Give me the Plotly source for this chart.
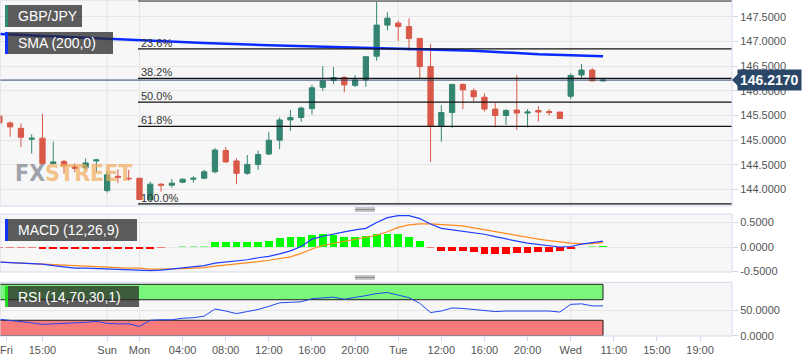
import plotly.graph_objects as go

# ---------------- data ----------------
idx = list(range(57))  # hourly candles, Fri 11:00 ... Wed ~09:00 (index on a compressed time axis)

opens = [145.49, 145.35, 145.24, 145.02, 145.04, 144.53, 144.57, 144.46, 144.44, 144.58,
         143.98, 144.27, 144.23, 144.23, 143.80, 144.11, 144.09, 144.15, 144.21, 144.23,
         144.36, 144.79, 144.58, 144.33, 144.51, 144.72, 145.00, 145.41, 145.46, 145.64,
         146.07, 146.21, 146.27, 146.11, 146.22, 146.70, 147.33, 147.37, 147.30, 147.06,
         146.49, 145.29, 145.56, 146.13, 146.00, 145.87, 145.63, 145.50, 145.61, 145.55,
         145.60, 145.58, 145.57, 145.89, 146.32, 146.42, 146.20]
highs = [145.55, 145.38, 145.34, 145.12, 145.53, 144.97, 144.60, 144.53, 144.63, 144.61,
         144.38, 144.41, 144.40, 144.23, 144.16, 144.13, 144.21, 144.23, 144.27, 144.40,
         144.84, 144.86, 144.63, 144.70, 144.79, 145.17, 145.46, 145.61, 145.68, 146.12,
         146.50, 146.48, 146.30, 146.32, 146.69, 147.80, 147.59, 147.42, 147.47, 147.06,
         146.95, 145.71, 146.13, 146.15, 146.05, 145.95, 145.75, 145.63, 146.32, 145.63,
         145.69, 145.63, 145.57, 146.35, 146.54, 146.46, 146.25]
lows = [145.30, 145.07, 144.86, 144.73, 144.52, 144.52, 144.32, 144.35, 144.40, 144.36,
        143.94, 144.13, 144.18, 143.79, 143.77, 143.96, 144.04, 144.13, 144.14, 144.21,
        144.33, 144.54, 144.11, 144.30, 144.40, 144.70, 144.82, 145.19, 145.37, 145.52,
        146.00, 146.14, 145.97, 146.08, 146.08, 146.61, 147.22, 147.01, 146.81, 146.25,
        144.56, 144.97, 145.25, 145.63, 145.78, 145.58, 145.26, 145.31, 145.21, 145.26,
        145.38, 145.50, 145.43, 145.83, 146.25, 146.20, 146.19]
closes = [145.35, 145.27, 145.06, 145.04, 144.53, 144.56, 144.48, 144.43, 144.54, 144.60,
          144.30, 144.25, 144.22, 143.80, 144.11, 144.09, 144.13, 144.21, 144.23, 144.36,
          144.80, 144.56, 144.33, 144.51, 144.71, 145.00, 145.41, 145.46, 145.65, 146.06,
          146.20, 146.27, 146.12, 146.22, 146.69, 147.33, 147.47, 147.30, 147.06, 146.49,
          145.29, 145.56, 146.13, 146.02, 145.88, 145.63, 145.50, 145.60, 145.55, 145.57,
          145.57, 145.56, 145.44, 146.31, 146.42, 146.20, 146.217]

sma_idx = [0, 5, 10, 15, 19, 25, 31, 39, 44, 50, 56]
sma_val = [147.15, 147.10, 147.05, 147.01, 146.97, 146.92, 146.89, 146.85, 146.81, 146.74, 146.70]

macd_line = [-0.31, -0.32, -0.33, -0.34, -0.35, -0.38, -0.41, -0.43, -0.43, -0.44,
             -0.44, -0.45, -0.46, -0.48, -0.48, -0.47, -0.45, -0.42, -0.40, -0.38,
             -0.33, -0.31, -0.29, -0.26, -0.22, -0.19, -0.14, -0.08, 0.01, 0.16,
             0.22, 0.27, 0.31, 0.35, 0.38, 0.50, 0.60, 0.64, 0.64, 0.58,
             0.47, 0.38, 0.35, 0.32, 0.29, 0.26, 0.21, 0.16, 0.12, 0.08,
             0.05, 0.02, 0.00, 0.01, 0.06, 0.09, 0.12]
macd_signal = [-0.31, -0.32, -0.33, -0.34, -0.35, -0.36, -0.38, -0.39, -0.40, -0.40,
               -0.41, -0.42, -0.43, -0.43, -0.45, -0.45, -0.45, -0.44, -0.43, -0.42,
               -0.39, -0.37, -0.35, -0.33, -0.30, -0.27, -0.24, -0.20, -0.13, -0.04,
               0.03, 0.07, 0.11, 0.15, 0.19, 0.24, 0.31, 0.40, 0.45, 0.47,
               0.47, 0.46, 0.45, 0.43, 0.39, 0.35, 0.31, 0.27, 0.23, 0.19,
               0.16, 0.13, 0.10, 0.08, 0.07, 0.07, 0.09]
macd_hist = [-0.015, -0.015, -0.015, -0.015, -0.03, -0.035, -0.04, -0.04, -0.04, -0.04,
             -0.04, -0.04, -0.04, -0.045, -0.035, -0.015, 0.0, 0.012, 0.012, 0.015,
             0.11, 0.11, 0.11, 0.11, 0.11, 0.13, 0.18, 0.20, 0.21, 0.245,
             0.26, 0.245, 0.21, 0.21, 0.23, 0.26, 0.26, 0.26, 0.20, 0.12,
             -0.015, -0.075, -0.08, -0.08, -0.095, -0.136, -0.143, -0.143, -0.13, -0.13,
             -0.11, -0.11, -0.09, -0.034, 0.0, 0.012, 0.02]
rsi = [32, 30, 27, 25, 22, 23, 23, 24, 26, 28,
       24, 23, 23, 18, 30, 31, 31, 34, 35, 38,
       52, 48, 43, 47, 51, 57, 64, 65, 66, 72,
       74, 75, 71, 74, 78, 82, 84, 79, 74, 63,
       45, 48, 54, 53, 51, 49, 47, 48, 48, 48,
       48, 48, 46, 61, 62, 58, 58]

fib_levels = [147.82, 146.85, 146.25, 145.77, 145.28, 143.71]
fib_labels = ["", "23.6%", "38.2%", "50.0%", "61.8%", "100.0%"]
fib_anchor_idx = 13
last_price = 146.217
last_price_text = "146.2170"

price_ticks = [144.0, 144.5, 145.0, 145.5, 146.0, 146.5, 147.0, 147.5]
macd_ticks = [-0.5, 0.0, 0.5]
macd_tick_text = ["-0.5000", "0.0000", "0.5000"]
rsi_ticks = [0, 50]
rsi_bands = [(70, 100), (0, 30)]
x_tick_idx = [0.66, 4, 10, 13, 17, 21, 25, 29, 33, 37, 41, 45, 49, 53, 57, 61, 65]
x_tick_text = ["Fri", "15:00", "Sun", "Mon", "04:00", "08:00", "12:00", "16:00", "20:00",
               "Tue", "12:00", "16:00", "20:00", "Wed", "11:00", "15:00", "19:00"]
day_break_idx = [10, 13, 37, 53]

# ---------------- geometry / style ----------------
W, H = 808, 363
PLOT_W, PLOT_H = 732, 336
PX_PER_BAR = 10.78
X_RANGE = [0.06, 0.06 + PLOT_W / PX_PER_BAR]


def py(p):
    return (PLOT_H - p) / PLOT_H


def px(p):
    return p / PLOT_W


MAIN_DOM = [py(206), 1.0]
MACD_DOM = [py(272), py(214)]
RSI_DOM = [0.0, py(282.3)]
MAIN_RANGE = [143.668, 147.838]
MACD_RANGE = [-0.510, 0.673]
RSI_RANGE = [-0.58, 103.9]

GREEN = "#338571"
RED = "#d95848"
FONT = "Liberation Sans, Arial, sans-serif"
GRID = "#e6e6e6"
TICKC = "#ccd6eb"
LABC = "#555555"

fig = go.Figure()
fig.add_trace(go.Candlestick(
    x=idx, open=opens, high=highs, low=lows, close=closes,
    increasing=dict(line=dict(color=GREEN, width=1), fillcolor=GREEN),
    decreasing=dict(line=dict(color=RED, width=1), fillcolor=RED),
    whiskerwidth=0, xaxis="x", yaxis="y", showlegend=False, hoverinfo="skip"))
fig.add_trace(go.Scatter(x=sma_idx, y=sma_val, mode="lines",
                         line=dict(color="#0a2bff", width=2.5),
                         xaxis="x", yaxis="y", showlegend=False, hoverinfo="skip"))

hist_colors = []
for v in macd_hist:
    if v >= 0:
        hist_colors.append("rgba(0,255,0,0.45)" if abs(v) < 0.02 else "#00ff00")
    else:
        hist_colors.append("rgba(255,0,0,0.45)" if abs(v) < 0.02 else "#ff0000")
fig.add_trace(go.Bar(x=idx, y=macd_hist, width=0.72,
                     marker=dict(color=hist_colors, line=dict(width=0)),
                     xaxis="x2", yaxis="y2", showlegend=False, hoverinfo="skip"))
fig.add_trace(go.Scatter(x=idx, y=macd_signal, mode="lines",
                         line=dict(color="#ff8a1c", width=1.2),
                         xaxis="x2", yaxis="y2", showlegend=False, hoverinfo="skip"))
fig.add_trace(go.Scatter(x=idx, y=macd_line, mode="lines",
                         line=dict(color="#1f3dff", width=1.2),
                         xaxis="x2", yaxis="y2", showlegend=False, hoverinfo="skip"))
fig.add_trace(go.Scatter(x=idx, y=rsi, mode="lines",
                         line=dict(color="#2244ee", width=1),
                         xaxis="x3", yaxis="y3", showlegend=False, hoverinfo="skip"))

shapes = []
# vertical day-break grid lines in every panel
for xr, yr in (("x", "y domain"), ("x2", "y2 domain"), ("x3", "y3 domain")):
    for d in day_break_idx:
        shapes.append(dict(type="line", xref=xr, yref=yr, x0=d, x1=d, y0=0, y1=1,
                           line=dict(color=GRID, width=1), layer="below"))
# RSI bands
band_cols = ["#7af77a", "#f77b7b"]
for (lo, hi), col in zip(rsi_bands, band_cols):
    shapes.append(dict(type="rect", xref="x3", yref="y3", x0=X_RANGE[0] - 0.05, x1=idx[-1],
                       y0=lo, y1=hi, fillcolor=col, line=dict(color="#1e1e1e", width=1),
                       layer="below"))
# Fibonacci retracement lines
for lvl in fib_levels:
    shapes.append(dict(type="line", xref="x", yref="y", x0=fib_anchor_idx - 0.14, x1=X_RANGE[1],
                       y0=lvl, y1=lvl, line=dict(color="#111111", width=1.3), layer="above"))
# last price line
shapes.append(dict(type="line", xref="x", yref="y", x0=X_RANGE[0], x1=X_RANGE[1],
                   y0=last_price, y1=last_price, line=dict(color="#2a4466", width=1),
                   layer="above"))
# panel borders
for dom in (MAIN_DOM, MACD_DOM, RSI_DOM):
    shapes.append(dict(type="rect", xref="paper", yref="paper", x0=0, x1=1, y0=dom[0], y1=dom[1],
                       line=dict(color="#d3daea", width=1), fillcolor="rgba(0,0,0,0)",
                       layer="above"))
# resize handles between panels
for base in (208, 276):
    for k in range(3):
        yy = py(base + 1.5 * k)
        shapes.append(dict(type="line", xref="paper", yref="paper", x0=px(355), x1=px(375),
                           y0=yy, y1=yy, line=dict(color="#8a8a8a", width=1)))

annotations = []
# indicator label boxes
label_boxes = [("GBP/JPY", 5, 82, 5, 27, "#2e8b72"),
               ("SMA (200,0)", 5, 113, 32, 54, "#1034ff"),
               ("MACD (12,26,9)", 5, 137, 219, 241, "#1034ff"),
               ("RSI (14,70,30,1)", 5, 139, 286, 307, "#22dd22")]
for txt, x0, x1, y0, y1, barc in label_boxes:
    shapes.append(dict(type="rect", xref="paper", yref="paper", x0=px(x0), x1=px(x1),
                       y0=py(y1), y1=py(y0), fillcolor="rgba(40,40,40,0.75)",
                       line=dict(width=0), layer="above"))
    shapes.append(dict(type="rect", xref="paper", yref="paper", x0=px(x0), x1=px(x0 + 3),
                       y0=py(y1), y1=py(y0), fillcolor=barc, line=dict(width=0), layer="above"))
    annotations.append(dict(text=txt, xref="paper", yref="paper", x=px(16), y=py((y0 + y1) / 2),
                            xanchor="left", yanchor="middle", showarrow=False,
                            font=dict(family=FONT, size=14, color="white")))

# fib labels
for lvl, lab in zip(fib_levels, fib_labels):
    if lab:
        annotations.append(dict(text=lab, xref="x", yref="y", x=fib_anchor_idx, y=lvl,
                                xanchor="left", yanchor="bottom", showarrow=False, yshift=-2,
                                font=dict(family=FONT, size=11, color="#333333")))

# watermark
annotations.append(dict(
    text='<b><span style="color:#7b808a">FX</span><span style="color:#f0ad5a">STREET</span></b>',
    xref="paper", yref="paper", x=px(13), y=py(173), xanchor="left", yanchor="middle",
    showarrow=False, opacity=0.7,
    font=dict(family="Liberation Sans Narrow, DejaVu Sans Condensed, Arial Narrow, sans-serif",
              size=23)))

# last price tag with arrow
lp_pix = (MAIN_RANGE[1] - last_price) / (MAIN_RANGE[1] - MAIN_RANGE[0]) * 206
annotations.append(dict(text="<b>" + last_price_text + "</b>", xref="paper", yref="y",
                        x=px(737), y=last_price, xanchor="left", yanchor="middle",
                        showarrow=False, bgcolor="#2b4768", borderpad=2,
                        font=dict(family=FONT, size=14, color="white")))
shapes.append(dict(type="path", xref="paper", yref="paper",
                   path="M {a},{b} L {c},{d} L {c},{e} Z".format(
                       a=px(732), b=py(lp_pix), c=px(738), d=py(lp_pix - 6), e=py(lp_pix + 6)),
                   fillcolor="#2b4768", line=dict(width=0)))

xcommon = dict(range=X_RANGE, showgrid=False, zeroline=False, showline=False, fixedrange=True)
ycommon = dict(side="right", ticks="outside", ticklen=5, tickcolor=TICKC, gridcolor=GRID,
               gridwidth=1, zeroline=False, showline=False, fixedrange=True,
               tickfont=dict(family=FONT, size=11, color=LABC))

fig.update_layout(
    width=W, height=H, autosize=False,
    margin=dict(l=0, r=W - PLOT_W, t=0, b=H - PLOT_H, pad=0),
    paper_bgcolor="white", plot_bgcolor="#f7f7f7",
    showlegend=False, hovermode=False, bargap=0,
    font=dict(family=FONT, size=11, color=LABC),
    xaxis=dict(domain=[0, 1], anchor="y", showticklabels=False, ticks="",
               rangeslider=dict(visible=False), **xcommon),
    xaxis2=dict(domain=[0, 1], anchor="y2", matches="x", showticklabels=False, ticks="", **xcommon),
    xaxis3=dict(domain=[0, 1], anchor="y3", matches="x", tickmode="array", tickvals=x_tick_idx,
                ticktext=x_tick_text, ticks="outside", ticklen=4, tickcolor=TICKC,
                tickfont=dict(family=FONT, size=11, color=LABC), **xcommon),
    yaxis=dict(domain=MAIN_DOM, range=MAIN_RANGE, anchor="x", tickmode="array",
               tickvals=price_ticks, tickformat=".4f", **ycommon),
    yaxis2=dict(domain=MACD_DOM, range=MACD_RANGE, anchor="x2", tickmode="array",
                tickvals=macd_ticks, ticktext=macd_tick_text, **ycommon),
    yaxis3=dict(domain=RSI_DOM, range=RSI_RANGE, anchor="x3", tickmode="array",
                tickvals=rsi_ticks, tickformat=".4f", **ycommon),
    shapes=shapes, annotations=annotations,
)

fig.write_html("out.html", config=dict(displayModeBar=False),
               post_script="document.body.style.margin='0';document.body.style.overflow='hidden';")
